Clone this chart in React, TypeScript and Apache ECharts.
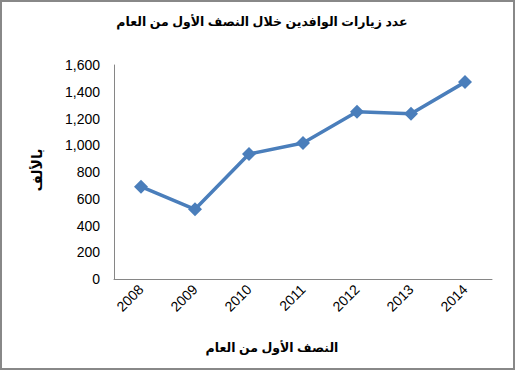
import React, { useEffect, useRef } from "react";
import * as echarts from "echarts";

const years = ["2008", "2009", "2010", "2011", "2012", "2013", "2014"];
const visitors = [690, 521, 935, 1017, 1250, 1236, 1472];
const titleText = "عدد زيارات الوافدين خلال النصف الأول من العام";
const xAxisTitle = "النصف الأول من العام";
const yAxisTitle = "بالألف";

export default function App() {
  const ref = useRef<HTMLDivElement>(null);
  useEffect(() => {
    if (!ref.current) return;
    const chart = echarts.init(ref.current, null, { renderer: "svg" });
    const arabicFont = "Liberation Sans, DejaVu Sans, sans-serif";
    chart.setOption({
      animation: false,
      backgroundColor: "#ffffff",
      grid: { left: 114, right: 23, top: 65, bottom: 91 },
      xAxis: {
        type: "category",
        data: years,
        boundaryGap: true,
        axisLine: { lineStyle: { color: "#868686", width: 1 } },
        axisTick: { show: false },
        axisLabel: {
          rotate: 45,
          fontSize: 14,
          color: "#000",
          margin: 8,
          fontFamily: "Liberation Sans, sans-serif",
        },
      },
      yAxis: {
        type: "value",
        min: 0,
        max: 1600,
        interval: 200,
        axisLine: { show: true, lineStyle: { color: "#868686", width: 1 } },
        axisTick: { show: false },
        splitLine: { show: false },
        axisLabel: {
          fontSize: 14,
          color: "#000",
          margin: 14,
          fontFamily: "Liberation Sans, sans-serif",
          formatter: (v: number) => v.toLocaleString("en-US"),
        },
      },
      graphic: [
        {
          type: "rect",
          shape: { x: 1, y: 1, width: 513, height: 368 },
          style: { fill: "none", stroke: "#888888", lineWidth: 2 },
          silent: true,
        },
        {
          type: "text",
          x: 262,
          y: 22,
          style: {
            text: titleText,
            fontSize: 12.5,
            fontWeight: "bold",
            fill: "#000",
            fontFamily: arabicFont,
            align: "center",
            verticalAlign: "middle",
          },
        },
        {
          type: "text",
          x: 272,
          y: 348,
          style: {
            text: xAxisTitle,
            fontSize: 12.5,
            fontWeight: "bold",
            fill: "#000",
            fontFamily: arabicFont,
            align: "center",
            verticalAlign: "middle",
          },
        },
        {
          type: "text",
          x: 37,
          y: 170,
          rotation: Math.PI / 2,
          style: {
            text: yAxisTitle,
            fontSize: 14,
            fontWeight: "bold",
            fill: "#000",
            fontFamily: arabicFont,
            align: "center",
            verticalAlign: "middle",
          },
        },
      ],
      series: [
        {
          type: "line",
          data: visitors,
          symbol: "diamond",
          symbolSize: 14,
          lineStyle: { color: "#4A7EBB", width: 3.5 },
          itemStyle: { color: "#4A7EBB" },
        },
      ],
    });
    return () => chart.dispose();
  }, []);
  return (
    <div
      ref={ref}
      style={{ position: "fixed", left: 0, top: 0, width: 515, height: 370 }}
    />
  );
}
